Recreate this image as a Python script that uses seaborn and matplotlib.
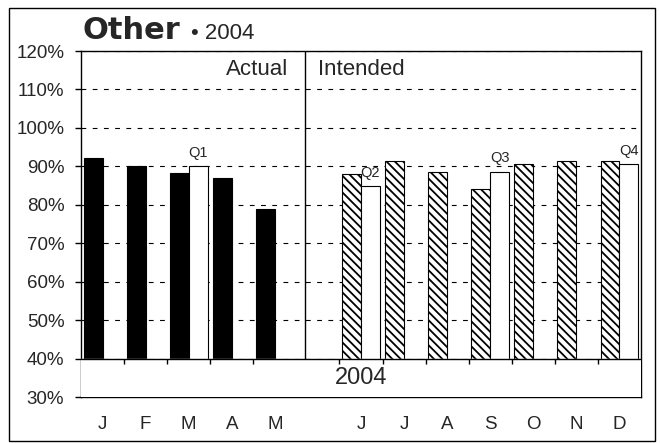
import pandas as pd
import matplotlib
matplotlib.use('Agg')
import matplotlib.pyplot as plt
import seaborn as sns
from matplotlib.patches import Rectangle

# values (percent)
months = ['Jan', 'Feb', 'Mar', 'Apr', 'May', 'Jun', 'Jul', 'Aug', 'Sep', 'Oct', 'Nov', 'Dec']
month_labels = ['J', 'F', 'M', 'A', 'M', 'J', 'J', 'A', 'S', 'O', 'N', 'D']
month_values = [92.1, 90.0, 88.2, 87.0, 79.0, 88.1, 91.4, 88.6, 84.2, 90.6, 91.5, 91.5]
quarters = ['Q1', 'Q2', 'Q3', 'Q4']
quarter_months = ['Mar', 'Jun', 'Sep', 'Dec']
quarter_values = [90.0, 84.8, 88.6, 90.6]
actual_months = ['Jan', 'Feb', 'Mar', 'Apr', 'May']

# empty slot between the actual and the intended months
slot_order = months[:5] + ['gap'] + months[5:]

sns.set_style('white')
plt.rcParams['font.family'] = ['Liberation Sans', 'DejaVu Sans']
plt.rcParams['hatch.linewidth'] = 1.3

df = pd.concat([
    pd.DataFrame({'slot': months, 'kind': 'Month', 'value': month_values}),
    pd.DataFrame({'slot': quarter_months, 'kind': 'Quarter', 'value': quarter_values}),
], ignore_index=True)

fig = plt.figure(figsize=(6.6, 4.43), dpi=100)
ax = fig.add_axes([81 / 660, 1 - 397 / 443, 560 / 660, 346 / 443])

sns.barplot(data=df, x='slot', y='value', hue='kind', order=slot_order,
            hue_order=['Month', 'Quarter'], palette=['black', 'white'],
            width=0.88, gap=0, errorbar=None, legend=False,
            edgecolor='black', linewidth=0.8, ax=ax)

# intended months get the hatched fill
for bar in ax.containers[0]:
    slot = int(round(bar.get_x() + bar.get_width() / 2 + 0.22))
    if slot_order[slot] not in actual_months:
        bar.set_facecolor('white')
        bar.set_hatch('\\\\\\\\')

ax.set_ylim(30, 120)
ax.set_xlim(-0.5, len(slot_order) - 0.5)
ax.set_yticks(range(30, 121, 10))
ax.set_yticklabels([f'{v}%' for v in range(30, 121, 10)], fontsize=13.5)
ax.set_xticks([slot_order.index(m) for m in months])
ax.set_xticklabels(month_labels, fontsize=13.5)
ax.tick_params(axis='x', length=0, pad=14)
ax.tick_params(axis='y', length=4, width=1, color='black', direction='out', pad=8, left=True)
ax.set_xlabel('')
ax.set_ylabel('')

ax.grid(axis='y', color='black', linewidth=0.8, linestyle=(0, (4.3, 5.8)))
ax.set_axisbelow(True)
for s in ax.spines.values():
    s.set_color('black')
    s.set_linewidth(1)

# year band under the bars
ax.axhspan(30, 40, color='white', zorder=3)
ax.axhline(40, color='black', linewidth=1, zorder=4)
ax.vlines([k - 0.5 for k in range(1, 13) if k != 5], 38.7, 40, color='black', linewidth=1, zorder=4)
ax.text(6, 35, '2004', ha='center', va='center', fontsize=17, zorder=5)

# actual / intended divider
ax.vlines(4.7, 40, 120, color='black', linewidth=1, zorder=4)
ax.text(4.3, 115.3, 'Actual', ha='right', va='center', fontsize=16)
ax.text(5.0, 115.3, 'Intended', ha='left', va='center', fontsize=16)

for q, m, v in zip(quarters, quarter_months, quarter_values):
    ax.text(slot_order.index(m) + 0.22, v + 3.5, q, ha='center', va='center', fontsize=10.5)

fig.text(83 / 660, 1 - 39 / 443, 'Other', fontsize=22, fontweight='bold',
         family=['DejaVu Sans'], va='baseline')
fig.text(191 / 660, 1 - 39 / 443, '\u2022 2004', fontsize=16, va='baseline')

fig.add_artist(Rectangle((9 / 660, 1 - 441 / 443), 646 / 660, 433 / 443,
                         transform=fig.transFigure, fill=False, ec='black', lw=1))

fig.savefig('out.png', dpi=100)
